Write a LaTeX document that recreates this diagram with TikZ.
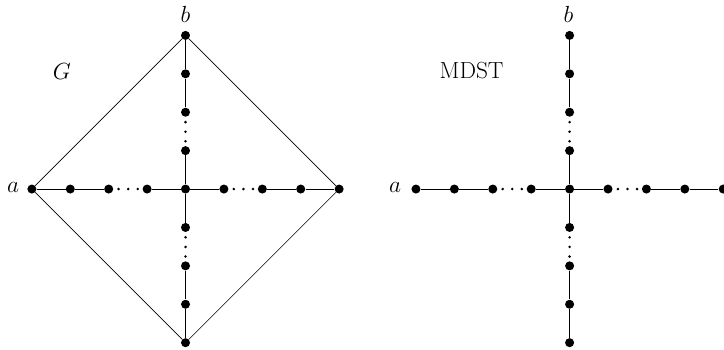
\documentclass[tikz,border=0pt]{standalone}
\tikzset{
  vtx/.style={circle, fill=black, draw=none, inner sep=0pt, minimum size=0.235cm},
  tedge/.style={line width=0.6pt},
  dedge/.style={line width=0.45pt},
  gap/.style={line width=2.1pt, line cap=round, dash pattern=on 0pt off 0.25cm, dash phase=0.1175cm},
  lbl/.style={font=\fontsize{17.28}{20}\selectfont, inner sep=0pt},
}
\begin{document}
\begin{tikzpicture}
\useasboundingbox (-4.83,-4.167) rectangle (14.02,4.922);
\clip (-4.83,-4.167) rectangle (14.02,4.922);

% ---- left: the graph G ----
\begin{scope}
  \node[vtx] (c) at (0,0) {};
  \foreach \i in {1,...,4} {
    \node[vtx] (l\i) at (-\i,0) {};
    \node[vtx] (r\i) at (\i,0) {};
    \node[vtx] (u\i) at (0,\i) {};
    \node[vtx] (d\i) at (0,-\i) {};
  }
  % spokes
  \draw[tedge] (l4) -- (l3) (l3) -- (l2) (l1) -- (c);
  \draw[tedge] (c) -- (r1) (r2) -- (r3) (r3) -- (r4);
  \draw[tedge] (u4) -- (u3) (u3) -- (u2) (u1) -- (c);
  \draw[tedge] (c) -- (d1) (d2) -- (d3) (d3) -- (d4);
  \draw[gap] (l2) -- (l1);
  \draw[gap] (r1) -- (r2);
  \draw[gap] (u2) -- (u1);
  \draw[gap] (d1) -- (d2);
  % outer cycle
  \draw[dedge] (l4) -- (u4) -- (r4) -- (d4) -- (l4);
  % labels
  \node[lbl, anchor=base] (la) at (-4.49,-0.1) {$a$};
  \node[lbl, anchor=base] (lb) at (0,4.33) {$b$};
  \node[lbl, anchor=base] (lg) at (-3.22,2.86) {$G$};
\end{scope}

% ---- right: the spanning tree ----
\begin{scope}[xshift=10cm]
  \node[vtx] (C) at (0,0) {};
  \foreach \i in {1,...,4} {
    \node[vtx] (L\i) at (-\i,0) {};
    \node[vtx] (R\i) at (\i,0) {};
    \node[vtx] (U\i) at (0,\i) {};
    \node[vtx] (D\i) at (0,-\i) {};
  }
  \draw[tedge] (L4) -- (L3) (L3) -- (L2) (L1) -- (C);
  \draw[tedge] (C) -- (R1) (R2) -- (R3) (R3) -- (R4);
  \draw[tedge] (U4) -- (U3) (U3) -- (U2) (U1) -- (C);
  \draw[tedge] (C) -- (D1) (D2) -- (D3) (D3) -- (D4);
  \draw[gap] (L2) -- (L1);
  \draw[gap] (R1) -- (R2);
  \draw[gap] (U2) -- (U1);
  \draw[gap] (D1) -- (D2);
  \node[lbl, anchor=base] (ra) at (-4.54,-0.1) {$a$};
  \node[lbl, anchor=base] (rb) at (-0.03,4.33) {$b$};
  \node[lbl, anchor=base] (rt) at (-2.55,2.89) {MDST};
\end{scope}
\end{tikzpicture}
\end{document}
